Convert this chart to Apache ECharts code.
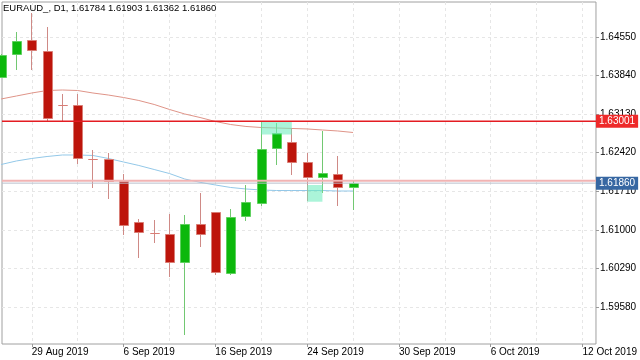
<!DOCTYPE html>
<html><head><meta charset="utf-8">
<script src="https://cdn.jsdelivr.net/npm/echarts@6/dist/echarts.min.js"></script>
<style>html,body{margin:0;padding:0;background:#fff}#c{width:640px;height:360px}</style>
</head><body><div id="c"></div>
<script>
const symbol = 'EURAUD_';
const timeframe = 'D1';
const barDates = ['27 Aug 2019','28 Aug 2019','29 Aug 2019','30 Aug 2019','2 Sep 2019','3 Sep 2019','4 Sep 2019','5 Sep 2019','6 Sep 2019','9 Sep 2019','10 Sep 2019','11 Sep 2019','12 Sep 2019','13 Sep 2019','16 Sep 2019','17 Sep 2019','18 Sep 2019','19 Sep 2019','20 Sep 2019','23 Sep 2019','24 Sep 2019','25 Sep 2019','26 Sep 2019','27 Sep 2019'];
const opens  = [1.63814,1.64232,1.64489,1.64298,1.63302,1.63293,1.62308,1.62299,1.61899,1.61136,1.60946,1.60924,1.60408,1.61099,1.61320,1.60206,1.61255,1.61494,1.62501,1.62623,1.62244,1.61979,1.62028,1.61784];
const highs  = [1.64237,1.64642,1.64992,1.64734,1.63501,1.63501,1.62470,1.62415,1.62028,1.61200,1.61182,1.61286,1.61274,1.61679,1.61334,1.61379,1.61826,1.62991,1.62973,1.62870,1.62409,1.62825,1.62360,1.61903];
const lows   = [1.63795,1.63943,1.63943,1.63009,1.62985,1.62212,1.61771,1.61577,1.60905,1.60488,1.60764,1.60127,1.59059,1.60690,1.60169,1.60160,1.61158,1.61448,1.62194,1.62004,1.61537,1.61684,1.61445,1.61362];
const closes = [1.64219,1.64476,1.64311,1.63054,1.63295,1.62317,1.62301,1.61899,1.61090,1.60955,1.60939,1.60408,1.61108,1.60929,1.60219,1.61228,1.61504,1.62488,1.62777,1.62255,1.61979,1.62041,1.61790,1.61860];
const maSlow = [1.63409,1.63464,1.63519,1.63565,1.63574,1.63565,1.63519,1.63482,1.63436,1.63381,1.63308,1.63216,1.63133,1.63068,1.62995,1.62939,1.62903,1.62884,1.62875,1.62866,1.62857,1.62838,1.62820,1.62792];
const maFast = [1.62203,1.62268,1.62314,1.62350,1.62378,1.62378,1.62369,1.62314,1.62249,1.62185,1.62111,1.62037,1.61936,1.61875,1.61826,1.61780,1.61752,1.61734,1.61724,1.61724,1.61724,1.61724,1.61715,1.61715];
// zones: [startBar, endBar, topPrice, bottomPrice]
const zones = [[17, 19, 1.62995, 1.62755], [20, 21, 1.61826, 1.61518]];
const levelRed = 1.63001;
const levelPink = 1.61903;
const levelBid = 1.61860;
const xTickBars = [2, 8, 14, 20, 26, 32, 38];
const xTickLabels = ['29 Aug 2019','6 Sep 2019','16 Sep 2019','24 Sep 2019','30 Sep 2019','6 Oct 2019','12 Oct 2019'];
const xGridBars = [2,5,8,11,14,17,20,23,26,29,32,35,38];
const yTicks = [1.59580,1.60290,1.61000,1.61710,1.62420,1.63130,1.63840,1.64550];

const FONT = 'Liberation Sans';
const X_MIN = 0.055, X_MAX = 38.88;
const candleData = opens.map((o, i) => [i, o, closes[i], lows[i], highs[i]]);
const last = candleData.length - 1;
const titleText = `${symbol}, ${timeframe}, ${opens[last].toFixed(5)} ${highs[last].toFixed(5)} ${lows[last].toFixed(5)} ${closes[last].toFixed(5)}`;

function renderCandle(params, api) {
  const i = api.value(0), o = api.value(1), c = api.value(2), l = api.value(3), h = api.value(4);
  const pO = api.coord([i, o]), pC = api.coord([i, c]), pL = api.coord([i, l]), pH = api.coord([i, h]);
  const up = c >= o;
  const cx = Math.floor(pO[0]);
  const top = Math.round(Math.min(pO[1], pC[1])) + 0.5;
  const bot = Math.round(Math.max(pO[1], pC[1])) + 0.5;
  return {
    type: 'group',
    children: [
      { type: 'line', shape: { x1: cx + 0.5, y1: Math.round(pH[1]), x2: cx + 0.5, y2: Math.round(pL[1]) },
        style: { stroke: up ? '#72c872' : '#cf8a86', lineWidth: 1 } },
      { type: 'rect', shape: { x: cx - 4 + 0.5, y: top, width: 9, height: Math.max(bot - top, 0) },
        style: { fill: up ? '#0cb80c' : '#bd150b', stroke: up ? '#5fd05f' : '#d97d75', lineWidth: 1 } }
    ]
  };
}
function renderZone(params, api) {
  const a = api.coord([api.value(0), api.value(2)]);
  const b = api.coord([api.value(1), api.value(3)]);
  return { type: 'rect', shape: { x: a[0], y: a[1], width: b[0] - a[0], height: b[1] - a[1] },
    style: { fill: 'rgba(110,236,190,0.58)' } };
}
function levelSeries(name, value, color, width, z, boxColor) {
  return { type: 'line', name: name, xAxisIndex: 0, z: z, silent: true, clip: false,
    data: [[X_MIN, value], [X_MAX, value]], showSymbol: false, symbol: 'none', color: color,
    lineStyle: { color: color, width: width, type: 'solid' },
    emphasis: { disabled: true },
    endLabel: boxColor ? { show: true, distance: 0, formatter: () => value.toFixed(5),
        backgroundColor: boxColor, color: '#fff', padding: [2, 3, 1, 3], fontFamily: FONT, fontSize: 10 } : { show: false } };
}

const chart = echarts.init(document.getElementById('c'), null, { renderer: 'canvas' });
chart.setOption({
  animation: false,
  backgroundColor: '#fff',
  title: { text: titleText, left: 3, top: 3, padding: 0,
    textStyle: { fontFamily: FONT, fontSize: 9.5, fontWeight: 'normal', color: '#000' } },
  grid: { left: 2, right: 42, top: 2, bottom: 16, containLabel: false, show: true, borderColor: '#a0a0a0', borderWidth: 1 },
  xAxis: [
    { type: 'value', min: X_MIN, max: X_MAX, position: 'bottom',
      axisLine: { show: false },
      splitLine: { show: false },
      axisTick: { show: true, length: 3, customValues: xTickBars, lineStyle: { color: '#999' } },
      axisLabel: { show: true, customValues: xTickBars, align: 'left', margin: 3,
        fontFamily: FONT, fontSize: 10, color: '#000',
        formatter: v => xTickLabels[xTickBars.indexOf(Math.round(v))] || '' } },
    { type: 'value', min: X_MIN, max: X_MAX, position: 'top',
      axisLine: { show: false }, axisLabel: { show: false },
      axisTick: { show: false, customValues: xGridBars },
      splitLine: { show: true, lineStyle: { color: '#e6e6e6', type: [3, 3], width: 1 } } }
  ],
  yAxis: {
    type: 'value', position: 'right', min: 1.58899, max: 1.65194,
    axisLine: { show: false },
    axisTick: { show: true, length: 3, customValues: yTicks, lineStyle: { color: '#999' } },
    axisLabel: { customValues: yTicks, margin: 4, fontFamily: FONT, fontSize: 10, color: '#000',
      formatter: v => v.toFixed(5) },
    splitLine: { show: true, lineStyle: { color: '#e6e6e6', type: [3, 3], width: 1 } }
  },
  series: [
    { type: 'line', name: 'maSlow', xAxisIndex: 0, data: maSlow.map((v, i) => [i, v]), showSymbol: false, symbol: 'none',
      lineStyle: { color: '#df9488', width: 1 }, z: 2, silent: true },
    { type: 'line', name: 'maFast', xAxisIndex: 0, data: maFast.map((v, i) => [i, v]), showSymbol: false, symbol: 'none',
      lineStyle: { color: '#93c8e8', width: 1 }, z: 2, silent: true },
    { type: 'custom', name: 'candles', xAxisIndex: 0, data: candleData, renderItem: renderCandle,
      encode: { x: 0, y: [1, 2, 3, 4] }, z: 3, silent: true },
    { type: 'custom', name: 'zones', xAxisIndex: 0, data: zones, renderItem: renderZone,
      encode: { x: [0, 1], y: [2, 3] }, z: 4, silent: true },
    levelSeries('pink', levelPink, '#f1b3b3', 2, 5, null),
    levelSeries('bid', levelBid, '#b9bfcc', 1, 6, '#3767a2'),
    levelSeries('red', levelRed, '#e41c22', 1.5, 7, '#ee2a2a')
  ]
});
</script></body></html>
